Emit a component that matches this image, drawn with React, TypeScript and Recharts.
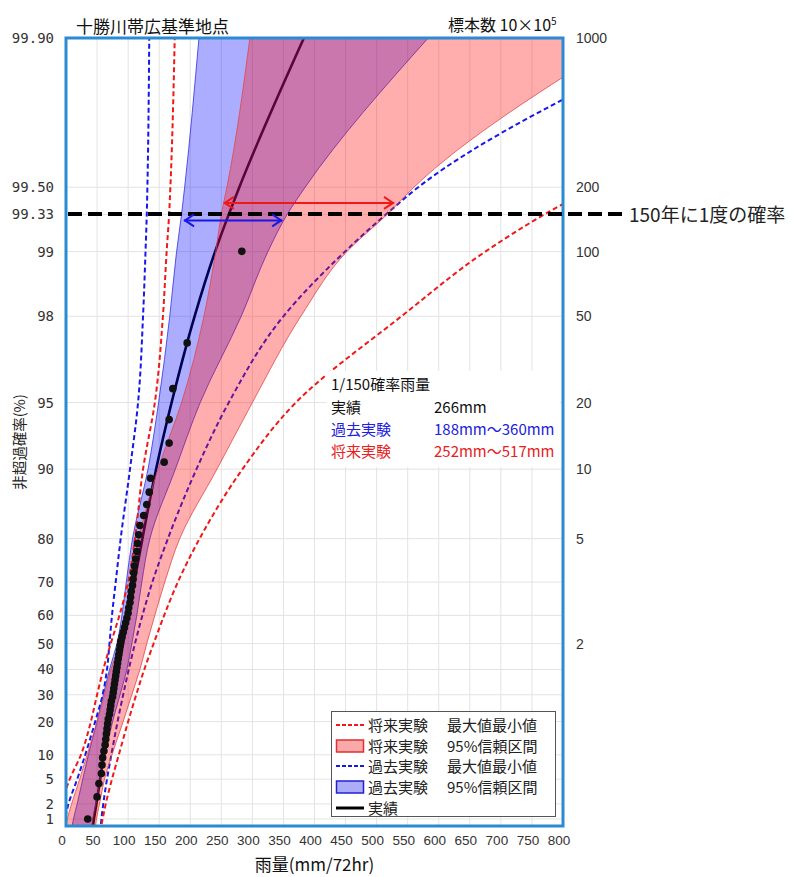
import React from 'react'
import {
  ComposedChart,
  Line,
  Area,
  XAxis,
  YAxis,
  CartesianGrid,
  ReferenceLine,
  ReferenceArea,
  Legend,
} from 'recharts'

// non-exceedance probability (%) used by every curve
const probs = [0.5, 1, 2, 5, 10, 20, 30, 40, 50, 60, 70, 80, 90, 95, 98, 99, 99.33, 99.5, 99.9]

// 実績 fitted curve (mm)
const observedFit = [42, 45, 49, 55, 61, 69, 77, 84, 92, 100, 110, 123, 145, 170, 207, 240, 262, 279, 383]

// 過去実験
const pastMin = [-8, -2, 4, 18, 31, 47, 59, 66, 70, 74, 80, 88, 103, 116, 124, 128, 130, 131, 134]
const pastMax = [55, 57, 60, 66, 73, 83, 92, 101, 111, 123, 139, 164, 210, 262, 350, 449, 515, 567, 1000]
const pastLow = [8, 12, 18, 27, 36, 50, 60, 70, 82, 90, 97, 107, 132, 149, 167, 178, 186, 191, 214]
const pastHigh = [40, 43, 48, 55, 63, 75, 87, 98, 106, 114, 122, 135, 176, 216, 282, 325, 356, 385, 583]

// 将来実験
const futureMin = [-30, -18, -8, 6, 24, 40, 50, 60, 72, 86, 100, 111, 124, 143, 156, 162, 166, 168, 175]
const futureMax = [55, 59, 64, 74, 85, 100, 113, 126, 141, 158, 180, 215, 284, 370, 540, 675, 770, 850, 1260]
const futureLow = [-3, 2, 9, 22, 34, 50, 62, 72, 87, 95, 104, 117, 148, 186, 222, 241, 250, 259, 296]
const futureHigh = [46, 49, 54, 62, 74, 92, 106, 119, 130, 143, 159, 183, 243, 300, 378, 452, 517, 560, 900]

// observed annual maxima (sorted) and their plotting positions (%)
const obsRain = [
  35, 50, 53, 57, 58, 59, 61, 63, 64, 65, 66, 67, 68, 70, 71, 72, 73, 75, 76, 77,
  78, 79, 80, 81, 82, 83, 84, 85, 86, 87, 88, 90, 92, 94, 96, 98, 100, 101, 103, 104,
  105, 107, 108, 109, 110, 112, 114, 115, 117, 119, 125, 130, 134, 136, 158, 166, 166, 172, 195, 283,
]
const obsProb = [
  0.997, 2.658, 4.319, 5.98, 7.641, 9.302, 10.963, 12.625, 14.286, 15.947,
  17.608, 19.269, 20.93, 22.591, 24.252, 25.914, 27.575, 29.236, 30.897, 32.558,
  34.219, 35.88, 37.542, 39.203, 40.864, 42.525, 44.186, 45.847, 47.508, 49.169,
  50.831, 52.492, 54.153, 55.814, 57.475, 59.136, 60.797, 62.458, 64.12, 65.781,
  67.442, 69.103, 70.764, 72.425, 74.086, 75.748, 77.409, 79.07, 80.731, 82.392,
  84.053, 85.714, 87.375, 89.037, 90.698, 92.359, 94.02, 95.681, 97.342, 99.003,
]

// axes
const xTicks = [0, 50, 100, 150, 200, 250, 300, 350, 400, 450, 500, 550, 600, 650, 700, 750, 800]
const leftTickP = [1, 2, 5, 10, 20, 30, 40, 50, 60, 70, 80, 90, 95, 98, 99, 99.33, 99.5, 99.9]
const leftTickLabels = ['1', '2', '5', '10', '20', '30', '40', '50', '60', '70', '80', '90', '95', '98', '99', '99.33', '99.50', '99.90']
const returnPeriods = [2, 5, 10, 20, 50, 100, 200, 1000]

// 1/150 annotations
const p150 = (1 - 1 / 150) * 100
const futureArrow = [254, 528]
const pastArrow = [190, 348]

const legendNames = ['将来実験', '将来実験', '過去実験', '過去実験', '実績']
const legendNotes = ['最大値最小値', '95%信頼区間', '最大値最小値', '95%信頼区間', '']

const gumbel = (p: number) => -Math.log(-Math.log(p / 100))
const Y_MIN = -1.603
const Y_MAX = gumbel(99.9)

const lineData = (xs: number[]) => probs.map((p, i) => ({ u: gumbel(p), x: xs[i] }))
const bandData = (lo: number[], hi: number[]) =>
  probs.map((p, i) => ({ u: gumbel(p), range: [lo[i], hi[i]] }))
const pointData = obsRain.map((x, i) => ({ u: gumbel(obsProb[i]), x }))

const leftTicks = leftTickP.map(gumbel)
const rightTicks = returnPeriods.map((t) => gumbel(100 * (1 - 1 / t)))

const labelFor = (ticks: number[], labels: string[]) => (v: number) => {
  const i = ticks.findIndex((t) => Math.abs(t - v) < 1e-6)
  return i >= 0 ? labels[i] : ''
}

const FONT_JP = "'Noto Sans CJK JP', 'Noto Sans', sans-serif"
const RED = '#f01818'
const BLUE = '#1818e8'

const arrowShape = (color: string, dy: number) => (props: any) => {
  const { x1, x2, y1 } = props
  const y = y1 + dy
  return (
    <g stroke={color} strokeWidth={2} fill="none">
      <line x1={x1} y1={y} x2={x2} y2={y} />
      <polyline points={`${x1 + 10},${y - 6} ${x1 + 1},${y} ${x1 + 10},${y + 6}`} />
      <polyline points={`${x2 - 10},${y - 6} ${x2 - 1},${y} ${x2 - 10},${y + 6}`} />
    </g>
  )
}

const returnLineShape = (props: any) => {
  const { x1, x2, y1 } = props
  const left = Math.min(x1, x2)
  const right = Math.max(x1, x2)
  return (
    <g>
      <line x1={left + 2} y1={y1} x2={right + 59} y2={y1} stroke="#000" strokeWidth={4} strokeDasharray="14 6" />
      <text x={right + 66} y={y1} dominantBaseline="central" fontSize={19} fill="#222" fontFamily={FONT_JP}>
        150年に1度の確率
      </text>
    </g>
  )
}

function LegendBox() {
  return (
    <div
      style={{
        position: 'relative',
        width: 225,
        height: 106,
        boxSizing: 'border-box',
        border: '1px solid #555',
        background: '#fff',
        fontFamily: FONT_JP,
        fontSize: 15,
        color: '#222',
      }}
    >
      {legendNames.map((name, i) => (
        <div key={i} style={{ position: 'absolute', left: 3, top: 3 + i * 20.7, height: 20, width: 220 }}>
          <svg width={30} height={20} style={{ position: 'absolute', left: 0, top: 0 }}>
            {i === 0 && <line x1={1} y1={10} x2={29} y2={10} stroke={RED} strokeWidth={2} strokeDasharray="4 2" />}
            {i === 2 && <line x1={1} y1={10} x2={29} y2={10} stroke={BLUE} strokeWidth={2} strokeDasharray="4 2" />}
            {i === 1 && <rect x={1.5} y={4} width={27} height={12} fill="#f9a9a9" stroke="#e03030" strokeWidth={1.5} />}
            {i === 3 && <rect x={1.5} y={4} width={27} height={12} fill="#acacf8" stroke="#2020d8" strokeWidth={1.5} />}
            {i === 4 && <line x1={1} y1={10} x2={29} y2={10} stroke="#000" strokeWidth={3} />}
          </svg>
          <span style={{ position: 'absolute', left: 33, top: 0, lineHeight: '20px' }}>{name}</span>
          <span style={{ position: 'absolute', left: 112, top: 0, lineHeight: '20px' }}>{legendNotes[i]}</span>
        </div>
      ))}
    </div>
  )
}

export default function App() {
  return (
    <div style={{ position: 'absolute', left: 0, top: 0, width: 801, height: 877, background: '#fff', fontFamily: FONT_JP }}>
      <ComposedChart
        layout="vertical"
        width={801}
        height={877}
        margin={{ top: 38, right: 188, bottom: 21, left: 6 }}
      >
        <CartesianGrid stroke="#e3e3e3" strokeWidth={1} />
        <XAxis
          type="number"
          domain={[0, 800]}
          ticks={xTicks}
          interval={0}
          allowDataOverflow
          axisLine={false}
          tickLine={false}
          height={30}
          tickMargin={3}
          tick={{ fill: '#333', fontSize: 13.5, fontFamily: "'Liberation Sans', Arial, sans-serif", dx: -4 }}
          label={{ value: '雨量(mm/72hr)', position: 'bottom', offset: 3, fill: '#111', fontSize: 17, fontFamily: FONT_JP }}
        />
        <YAxis
          type="number"
          dataKey="u"
          reversed
          domain={[Y_MIN, Y_MAX]}
          ticks={leftTicks}
          interval={0}
          allowDataOverflow
          axisLine={false}
          tickLine={false}
          width={60}
          tickMargin={6}
          tickFormatter={labelFor(leftTicks, leftTickLabels)}
          tick={{ fill: '#333', fontSize: 14, fontFamily: "'DejaVu Sans Mono', monospace" }}
        />
        <YAxis
          yAxisId="right"
          orientation="right"
          type="number"
          dataKey="u"
          reversed
          domain={[Y_MIN, Y_MAX]}
          ticks={rightTicks}
          interval={0}
          allowDataOverflow
          axisLine={false}
          tickLine={false}
          width={50}
          tickMargin={7}
          tickFormatter={labelFor(rightTicks, returnPeriods.map(String))}
          tick={{ fill: '#333', fontSize: 14, fontFamily: "'Liberation Sans', Arial, sans-serif" }}
        />

        {/* carrier series so the return-period axis gets drawn */}
        <Line yAxisId="right" data={lineData(observedFit)} dataKey="x" stroke="none" dot={false}
          activeDot={false} isAnimationActive={false} legendType="none" zIndex={10} />

        <Line data={lineData(observedFit)} dataKey="x" type="monotone" stroke="#000" strokeWidth={2.6}
          dot={false} activeDot={false} isAnimationActive={false} zIndex={60} />
        <Line data={pointData} dataKey="x" stroke="none" strokeWidth={0}
          dot={{ r: 3.8, fill: '#111', stroke: 'none' }} activeDot={false} isAnimationActive={false} zIndex={70} />
        <Line data={lineData(pastMin)} dataKey="x" type="monotone" stroke={BLUE} strokeWidth={2}
          strokeDasharray="5 3" dot={false} activeDot={false} isAnimationActive={false} zIndex={80} />
        <Line data={lineData(pastMax)} dataKey="x" type="monotone" stroke={BLUE} strokeWidth={2}
          strokeDasharray="5 3" dot={false} activeDot={false} isAnimationActive={false} zIndex={80} />

        <Area data={bandData(pastLow, pastHigh)} dataKey="range" type="monotone" fill="#0000ff" fillOpacity={0.32}
          stroke="#3030e0" strokeWidth={0.8} activeDot={false} isAnimationActive={false} zIndex={100} />
        <Area data={bandData(futureLow, futureHigh)} dataKey="range" type="monotone" fill="#ff1010" fillOpacity={0.34}
          stroke="#e04848" strokeWidth={0.8} activeDot={false} isAnimationActive={false} zIndex={110} />

        <Line data={lineData(futureMin)} dataKey="x" type="monotone" stroke={RED} strokeWidth={2}
          strokeDasharray="5 3" dot={false} activeDot={false} isAnimationActive={false} zIndex={400} />
        <Line data={lineData(futureMax)} dataKey="x" type="monotone" stroke={RED} strokeWidth={2}
          strokeDasharray="5 3" dot={false} activeDot={false} isAnimationActive={false} zIndex={400} />

        <ReferenceArea x1={0} x2={800} y1={Y_MIN} y2={Y_MAX} fill="none" stroke="#2a8ad2" strokeWidth={3} zIndex={450} />
        <ReferenceLine y={gumbel(p150)} shape={returnLineShape} zIndex={600} />
        <ReferenceLine
          segment={[{ x: futureArrow[0], y: gumbel(p150) }, { x: futureArrow[1], y: gumbel(p150) }]}
          shape={arrowShape(RED, -11)}
          zIndex={600}
        />
        <ReferenceLine
          segment={[{ x: pastArrow[0], y: gumbel(p150) }, { x: pastArrow[1], y: gumbel(p150) }]}
          shape={arrowShape(BLUE, 6.5)}
          zIndex={600}
        />
        <Legend
          layout="vertical"
          align="center"
          verticalAlign="middle"
          wrapperStyle={{ left: 331, top: 711, width: 225, height: 106 }}
          content={() => <LegendBox />}
        />
      </ComposedChart>

      <div style={{ position: 'absolute', left: 76, top: 16, fontSize: 17, lineHeight: '20px', color: '#111' }}>
        十勝川帯広基準地点
      </div>
      <div style={{ position: 'absolute', left: 448, top: 11, fontSize: 16, lineHeight: '20px', color: '#111' }}>
        標本数 10×10<sup style={{ fontSize: 10 }}>5</sup>
      </div>
      <div
        style={{
          position: 'absolute',
          left: 18,
          top: 442,
          transform: 'translate(-50%, -50%) rotate(-90deg)',
          whiteSpace: 'nowrap',
          fontSize: 14.5,
          color: '#222',
        }}
      >
        非超過確率(%)
      </div>

      <div style={{ position: 'absolute', left: 326, top: 371, width: 234, height: 96, background: '#fff', fontSize: 15, lineHeight: '22px' }}>
        <div style={{ position: 'absolute', left: 5, top: 2, color: '#111' }}>1/150確率雨量</div>
        <div style={{ position: 'absolute', left: 5, top: 25, color: '#111' }}>実績</div>
        <div style={{ position: 'absolute', left: 108, top: 25, color: '#111' }}>266mm</div>
        <div style={{ position: 'absolute', left: 5, top: 47, color: '#2020e0' }}>過去実験</div>
        <div style={{ position: 'absolute', left: 108, top: 47, color: '#2020e0' }}>188mm～360mm</div>
        <div style={{ position: 'absolute', left: 5, top: 69, color: '#e82020' }}>将来実験</div>
        <div style={{ position: 'absolute', left: 108, top: 69, color: '#e82020' }}>252mm～517mm</div>
      </div>
    </div>
  )
}
